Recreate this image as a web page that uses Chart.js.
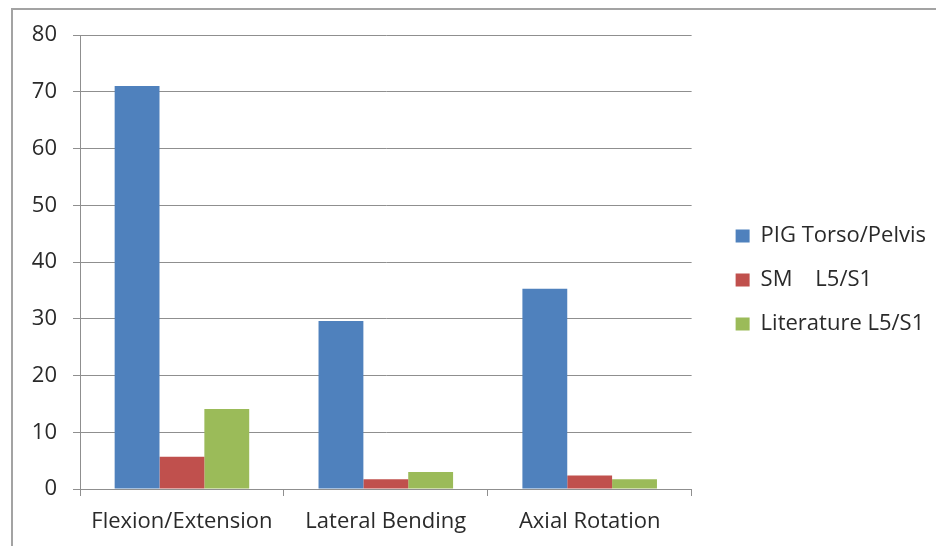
<!DOCTYPE html>
<html>
<head>
<meta charset="utf-8">
<script src="https://cdn.jsdelivr.net/npm/chart.js@4/dist/chart.umd.min.js"></script>
<style>
  html, body { margin: 0; padding: 0; background: #fff; }
  #wrap { position: relative; width: 936px; height: 546px; overflow: hidden; }
  #frame {
    position: absolute; left: 11px; top: 8px; right: -10px; bottom: -10px;
    border-left: 2px solid #a3a3a3; border-top: 2px solid #a3a3a3;
  }
  canvas { position: absolute; left: 0; top: 0; }
</style>
</head>
<body>
<div id="wrap">
  <div id="frame"></div>
  <canvas id="chart" width="936" height="546"></canvas>
</div>
<script>
// Range of motion per movement plane
const categories = ['Flexion/Extension', 'Lateral Bending', 'Axial Rotation'];
const pigTorsoPelvis = [71, 29.6, 35.3];
const smL5S1 = [5.7, 1.7, 2.4];
const literatureL5S1 = [14.1, 3.0, 1.7];
const seriesNames = ['PIG Torso/Pelvis', 'SM    L5/S1', 'Literature L5/S1'];
const yMin = 0, yMax = 80, yStep = 10;

const FONT = { family: '"Open Sans", sans-serif', size: 22 };
const TEXT = '#2a2a2a';
const GRID = '#8f8f8f';

new Chart(document.getElementById('chart'), {
  type: 'bar',
  data: {
    labels: categories,
    datasets: [
      { label: seriesNames[0], data: pigTorsoPelvis, backgroundColor: '#4f81bd' },
      { label: seriesNames[1], data: smL5S1, backgroundColor: '#c0504d' },
      { label: seriesNames[2], data: literatureL5S1, backgroundColor: '#9bbb59' }
    ]
  },
  options: {
    responsive: false,
    animation: false,
    devicePixelRatio: 1,
    layout: { padding: { left: 0, top: 14, right: 0, bottom: 0 } },
    datasets: { bar: { categoryPercentage: 0.66, barPercentage: 1.0 } },
    scales: {
      x: {
        grid: { offset: true, drawOnChartArea: false, tickLength: 7, color: GRID },
        border: { color: GRID },
        ticks: { font: FONT, color: TEXT, padding: 13, maxRotation: 0 },
        afterFit: s => { s.height = 57; }
      },
      y: {
        min: yMin, max: yMax,
        ticks: { stepSize: yStep, font: FONT, color: TEXT, padding: 16 },
        grid: { tickLength: 7, color: GRID },
        border: { color: GRID },
        afterFit: s => { s.width = 80; }
      },
      // empty strip between the plot and the legend
      gap: {
        position: 'right', type: 'linear', display: true,
        grid: { display: false }, ticks: { display: false }, border: { display: false },
        afterFit: s => { s.width = 22; }
      }
    },
    plugins: {
      tooltip: { enabled: false },
      // blank band above the plot only (the legend keeps the full height)
      title: {
        display: true, text: '', fullSize: false,
        padding: 0, font: { size: 21, lineHeight: 1 }
      },
      legend: {
        position: 'right',
        align: 'center',
        maxWidth: 229,
        labels: { boxWidth: 14, boxHeight: 13, padding: 22, font: FONT, color: TEXT }
      }
    }
  }
});
</script>
</body>
</html>
